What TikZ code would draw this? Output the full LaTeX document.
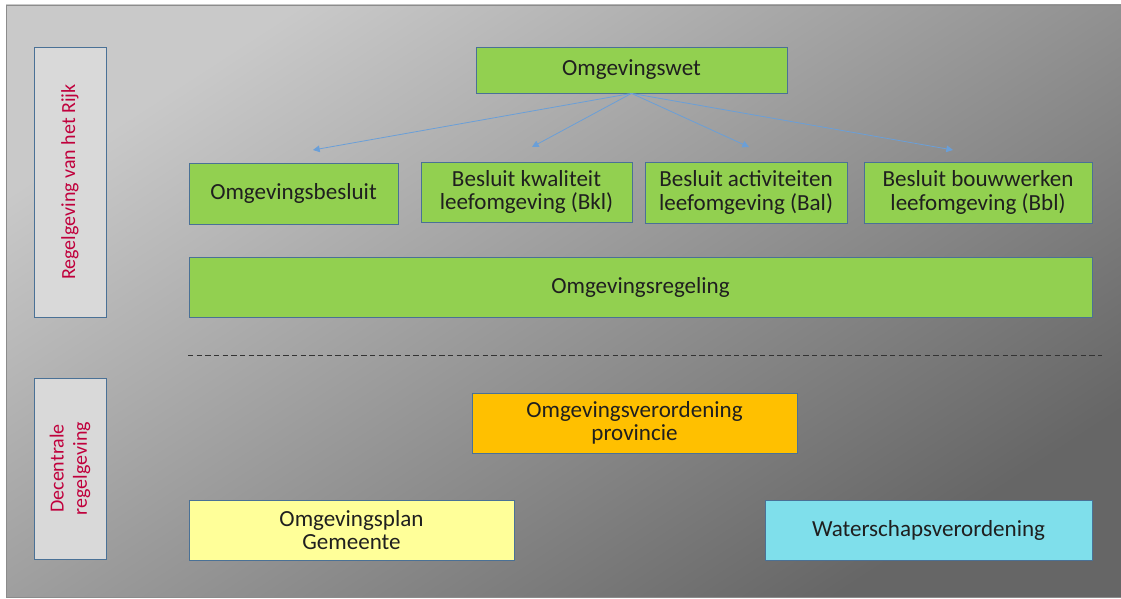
\documentclass[tikz,border=0pt]{standalone}
\usepackage{fontspec}
\setmainfont{Carlito}
\usetikzlibrary{arrows.meta, positioning}
\definecolor{wetcolor}{HTML}{92D050}
\definecolor{boxborder}{HTML}{4A7196}
\definecolor{provcolor}{HTML}{FFC000}
\definecolor{gemcolor}{HTML}{FFFF99}
\definecolor{watercolor}{HTML}{7FDFEB}
\definecolor{labelcolor}{HTML}{D9D9D9}
\definecolor{labeltext}{HTML}{C0003C}
\definecolor{arrowcolor}{HTML}{6A9FD8}
\definecolor{framecolor}{HTML}{8C8C8C}

\begin{document}
\begin{tikzpicture}[
    x=0.75pt, y=-0.75pt,
    >=Triangle,
    block/.style={draw=boxborder, line width=0.6pt, align=center,
        inner sep=0pt, text=black!88,
        font=\fontsize{17.3}{17.5}\selectfont},
    rijk/.style={block, fill=wetcolor},
    prov/.style={block, fill=provcolor},
    gem/.style={block, fill=gemcolor},
    water/.style={block, fill=watercolor},
    sidelabel/.style={draw=boxborder, line width=0.6pt, fill=labelcolor,
        inner sep=0pt, minimum width=72*0.75pt},
    sidetext/.style={rotate=90, align=center, text=labeltext,
        font=\fontsize{15}{17.5}\selectfont},
    arr/.style={->, draw=arrowcolor, line width=0.6pt,
        arrows={-Triangle[length=5pt, width=5pt]}},
]
\useasboundingbox (0,0) rectangle (1121,599);
\fill[white] (0,0) rectangle (1121,599);

% --- Background frame ---
\shade[top color=black!21, middle color=black!31, bottom color=black!60,
    shading angle=33]
    (6,5) rectangle (1121,597);
\draw[framecolor, line width=0.6pt] (1121,5) -- (6,5) -- (6,597) -- (1121,597);

% --- Side labels ---
\node[sidelabel, minimum height=270*0.75pt] (rijklabel) at (70,182) {};
\node[sidetext] at (rijklabel.center) {Regelgeving van het Rijk};
\node[sidelabel, minimum height=181*0.75pt] (declabel) at (70,468.5) {};
\node[sidetext] at (declabel.center) {Decentrale\\regelgeving};

% --- Rijk ---
\node[rijk, minimum width=311*0.75pt, minimum height=46*0.75pt]
    (wet) at (631.5,70) {Omgevingswet};
\node[rijk, minimum width=209*0.75pt, minimum height=61*0.75pt]
    (besluit) at (293.5,193.5) {Omgevingsbesluit};
\node[rijk, minimum width=211*0.75pt, minimum height=60*0.75pt]
    (bkl) at (526.5,192) {Besluit kwaliteit\\leefomgeving (Bkl)};
\node[rijk, minimum width=202*0.75pt, minimum height=61*0.75pt]
    (bal) at (746,192.5) {Besluit activiteiten\\leefomgeving (Bal)};
\node[rijk, minimum width=228*0.75pt, minimum height=61*0.75pt]
    (bbl) at (978,192.5) {Besluit bouwwerken\\leefomgeving (Bbl)};
\node[rijk, minimum width=903*0.75pt, minimum height=60*0.75pt]
    (regeling) at (640.5,287) {Omgevingsregeling};

% arrow tips stop above the boxes
\coordinate (besluittip) at (313,150);
\coordinate (bkltip) at (532,147);
\coordinate (baltip) at (749,147);
\coordinate (bbltip) at (953,150);
\foreach \t in {besluittip, bkltip, baltip, bbltip} {
    \draw[arr] (wet.south) -- (\t);
}

% --- Separator ---
\coordinate (sepleft) at (188,355);
\coordinate (sepright) at (1102,355);
\draw[black!80, line width=0.7pt, dash pattern=on 4pt off 2.5pt]
    (sepleft) -- (sepright);

% --- Decentraal ---
\node[prov, minimum width=325*0.75pt, minimum height=60*0.75pt]
    (provincie) at (634.5,423) {Omgevingsverordening\\provincie};
\node[gem, minimum width=325*0.75pt, minimum height=60*0.75pt]
    (gemeente) at (351.5,530) {Omgevingsplan\\Gemeente};
\node[water, minimum width=327*0.75pt, minimum height=60*0.75pt]
    (waterschap) at (928.5,530) {Waterschapsverordening};

\end{tikzpicture}
\end{document}
